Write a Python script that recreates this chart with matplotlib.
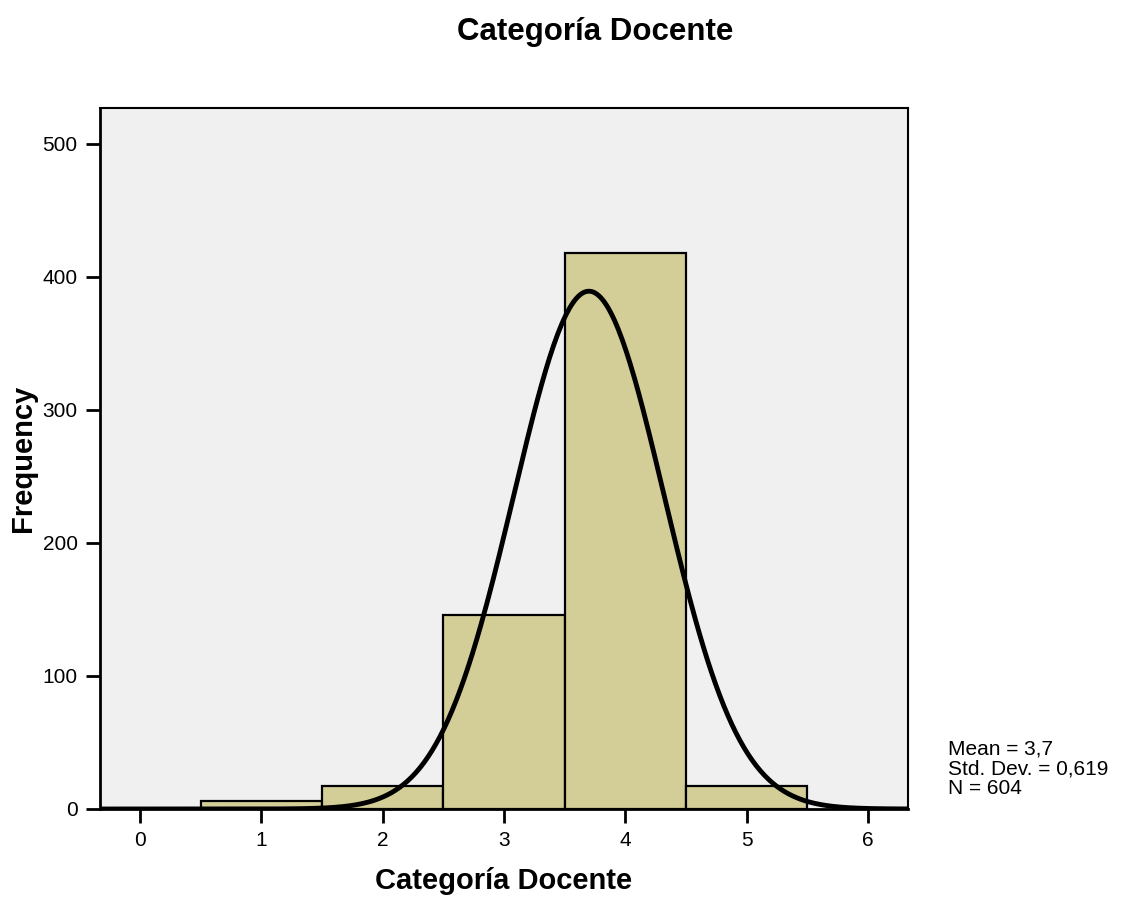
import matplotlib
matplotlib.use('Agg')
import matplotlib.pyplot as plt
import numpy as np

plt.rcParams['font.family'] = ['Liberation Sans', 'DejaVu Sans']

# histogram data
categorias = [1, 2, 3, 4, 5]
frecuencias = [6, 17, 146, 418, 17]
media = 3.7
desv = 0.619
n = 604

fig = plt.figure(figsize=(11.22, 8.98), dpi=100)
ax = fig.add_axes([100 / 1122, 89 / 898, 808 / 1122, 701 / 898])
ax.set_facecolor('#f0f0f0')

ax.bar(categorias, frecuencias, width=1.0, color='#d3ce98',
       edgecolor='black', linewidth=1.6, zorder=2)

xs = np.linspace(-0.33, 6.33, 400)
ys = n * 1.0 / (desv * np.sqrt(2 * np.pi)) * np.exp(-0.5 * ((xs - media) / desv) ** 2)
ax.plot(xs, ys, color='black', linewidth=3.5, zorder=3)

ax.set_xlim(-0.33, 6.33)
ax.set_ylim(0, 527)
ax.set_xticks(range(0, 7))
ax.set_yticks([0, 100, 200, 300, 400, 500])
ax.tick_params(direction='out', length=10, width=2, labelsize=15, pad=6)
for s in ax.spines.values():
    s.set_linewidth(1.5)
ax.spines['left'].set_linewidth(2)
ax.spines['bottom'].set_linewidth(2)

ax.set_xlabel('Categoría Docente', fontsize=21, fontweight='bold', labelpad=12)
ax.set_ylabel('Frequency', fontsize=21, fontweight='bold', labelpad=4)

fig.text(595 / 1122, 1 - 32 / 898, 'Categoría Docente', fontsize=22.5,
         fontweight='bold', ha='center', va='center')

fig.text(948 / 1122, 1 - 769 / 898,
         'Mean = 3,7\nStd. Dev. = 0,619\nN = 604',
         fontsize=15, ha='left', va='center', linespacing=1.05)

fig.savefig('out.png', dpi=100)
